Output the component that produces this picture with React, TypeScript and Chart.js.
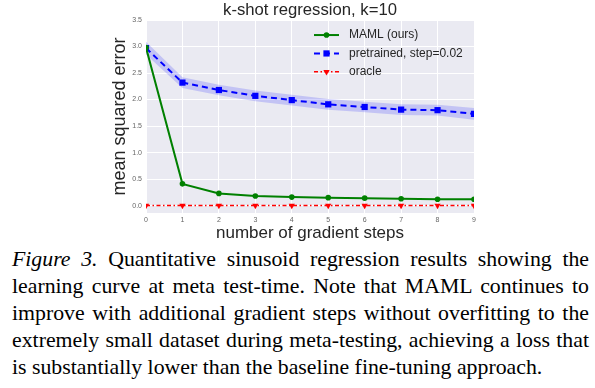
import React, { useEffect, useRef } from "react";
import { Chart, registerables } from "chart.js";

Chart.register(...registerables);

const SANS = '"Liberation Sans", Arial, sans-serif';
const SERIF = '"Liberation Serif", "Times New Roman", serif';

// ---- data ----
const steps = [0, 1, 2, 3, 4, 5, 6, 7, 8, 9];
const mamlValues = [2.98, 0.41, 0.23, 0.18, 0.16, 0.15, 0.14, 0.13, 0.12, 0.12];
const pretrainedValues = [2.97, 2.32, 2.18, 2.07, 1.99, 1.91, 1.86, 1.81, 1.8, 1.73];
const pretrainedUpper = [3.09, 2.42, 2.28, 2.17, 2.09, 2.01, 1.96, 1.91, 1.9, 1.84];
const pretrainedLower = [2.85, 2.22, 2.08, 1.97, 1.89, 1.81, 1.76, 1.71, 1.7, 1.62];
const oracleValues = [0, 0, 0, 0, 0, 0, 0, 0, 0, 0];
const yTickValues = [0, 0.5, 1, 1.5, 2, 2.5, 3, 3.5];
const xTickValues = steps;

const seriesLabels = ["MAML (ours)", "pretrained, step=0.02", "oracle"];
const chartTitle = "k-shot regression, k=10";
const xTitle = "number of gradient steps";
const yTitle = "mean squared error";
const captionLabel = "Figure 3.";
const captionLines = [
  "Quantitative sinusoid regression results showing the",
  "learning curve at meta test-time.  Note that MAML continues to",
  "improve with additional gradient steps without overfitting to the",
  "extremely small dataset during meta-testing, achieving a loss that",
  "is substantially lower than the baseline fine-tuning approach.",
];

const toPoints = (vals: number[]) => steps.map((s, i) => ({ x: s, y: vals[i] }));

const bgPlugin = {
  id: "plotBackground",
  beforeDraw(chart: any) {
    const { ctx, chartArea } = chart;
    ctx.save();
    ctx.fillStyle = "#EAEAF2";
    ctx.fillRect(chartArea.left, chartArea.top, chartArea.right - chartArea.left, chartArea.bottom - chartArea.top);
    ctx.restore();
  },
};

function drawMarker(ctx: CanvasRenderingContext2D, style: string, x: number, y: number, r: number, rotDeg: number, color: string) {
  ctx.save();
  ctx.fillStyle = color;
  ctx.setLineDash([]);
  ctx.beginPath();
  if (style === "circle") {
    ctx.arc(x, y, r, 0, Math.PI * 2);
  } else if (style === "rect") {
    const s = r / Math.SQRT2;
    ctx.rect(x - s, y - s, 2 * s, 2 * s);
  } else if (style === "triangle") {
    let rad = (rotDeg * Math.PI) / 180;
    ctx.moveTo(x + Math.sin(rad) * r, y - Math.cos(rad) * r);
    rad += (2 * Math.PI) / 3;
    ctx.lineTo(x + Math.sin(rad) * r, y - Math.cos(rad) * r);
    rad += (2 * Math.PI) / 3;
    ctx.lineTo(x + Math.sin(rad) * r, y - Math.cos(rad) * r);
    ctx.closePath();
  }
  ctx.fill();
  ctx.restore();
}

const legendPlugin = {
  id: "insideLegend",
  afterDraw(chart: any) {
    const { ctx, chartArea } = chart;
    const items = chart.data.datasets.filter((d: any) => d.inLegend);
    const lineStart = chartArea.left + 168;
    const lineEnd = chartArea.left + 193;
    const textX = chartArea.left + 203;
    items.forEach((d: any, i: number) => {
      const y = chartArea.top + 15 + i * 18.4;
      ctx.save();
      ctx.strokeStyle = d.borderColor;
      ctx.lineWidth = d.borderWidth;
      ctx.setLineDash(d.borderDash || []);
      ctx.beginPath();
      ctx.moveTo(lineStart, y);
      ctx.lineTo(lineEnd, y);
      ctx.stroke();
      ctx.restore();
      drawMarker(ctx, d.pointStyle, (lineStart + lineEnd) / 2, y, d.pointRadius, d.pointRotation || 0, d.pointBackgroundColor);
      ctx.save();
      ctx.fillStyle = "#262626";
      ctx.font = `12px ${SANS}`;
      ctx.textBaseline = "middle";
      ctx.textAlign = "left";
      ctx.fillText(d.label, textX, y);
      ctx.restore();
    });
  },
};

export default function App() {
  const canvasRef = useRef<HTMLCanvasElement | null>(null);

  useEffect(() => {
    if (!canvasRef.current) return;
    const chart = new Chart(canvasRef.current, {
      type: "line",
      data: {
        datasets: [
          {
            label: seriesLabels[0],
            inLegend: true,
            data: toPoints(mamlValues),
            borderColor: "#008000",
            backgroundColor: "#008000",
            pointBackgroundColor: "#008000",
            borderWidth: 2,
            pointStyle: "circle",
            pointRadius: 2.8,
            pointBorderWidth: 0,
            tension: 0,
            fill: false,
            order: 2,
          },
          {
            label: seriesLabels[1],
            inLegend: true,
            data: toPoints(pretrainedValues),
            borderColor: "#0000FF",
            backgroundColor: "#0000FF",
            pointBackgroundColor: "#0000FF",
            borderWidth: 2,
            borderDash: [6, 4],
            pointStyle: "rect",
            pointRadius: 4.4,
            pointBorderWidth: 0,
            tension: 0,
            fill: false,
            order: 3,
          },
          {
            label: seriesLabels[2],
            inLegend: true,
            data: toPoints(oracleValues),
            borderColor: "#FF0000",
            backgroundColor: "#FF0000",
            pointBackgroundColor: "#FF0000",
            borderWidth: 1.5,
            borderDash: [4, 2.5, 1.5, 2.5],
            pointStyle: "triangle",
            pointRotation: 180,
            pointRadius: 3.6,
            pointBorderWidth: 0,
            tension: 0,
            fill: false,
            order: 1,
          },
          {
            label: "",
            data: toPoints(pretrainedUpper),
            borderWidth: 0,
            borderColor: "rgba(0,0,0,0)",
            pointRadius: 0,
            backgroundColor: "rgba(40,40,255,0.2)",
            fill: "+1",
            tension: 0,
            order: 5,
          },
          {
            label: "",
            data: toPoints(pretrainedLower),
            borderWidth: 0,
            borderColor: "rgba(0,0,0,0)",
            pointRadius: 0,
            fill: false,
            tension: 0,
            order: 5,
          },
        ] as any,
      },
      options: {
        responsive: false,
        animation: false,
        devicePixelRatio: 1,
        layout: { padding: { left: 100, right: 121, top: 0, bottom: 0 } },
        plugins: {
          legend: { display: false },
          tooltip: { enabled: false },
          title: {
            display: true,
            text: chartTitle,
            fullSize: false,
            color: "#262626",
            font: { family: SANS, size: 16.7, weight: "normal" },
            padding: { top: 0, bottom: 0 },
          },
        },
        scales: {
          x: {
            type: "linear",
            min: 0,
            max: 9,
            afterBuildTicks: (s: any) => {
              s.ticks = xTickValues.map((v) => ({ value: v }));
            },
            afterFit: (s: any) => {
              s.height = 33;
            },
            grid: { color: "#FFFFFF", lineWidth: 1, drawTicks: false },
            border: { display: false },
            ticks: {
              color: "#666666",
              font: { family: SANS, size: 7 },
              padding: 3,
              maxRotation: 0,
              autoSkip: false,
              callback: (v: any) => String(v),
            },
            title: {
              display: true,
              text: xTitle,
              color: "#262626",
              font: { family: SANS, size: 17 },
              padding: { top: 0, bottom: 2 },
            },
          },
          y: {
            type: "linear",
            min: -0.14,
            max: 3.5,
            afterBuildTicks: (s: any) => {
              s.ticks = yTickValues.map((v) => ({ value: v }));
            },
            afterFit: (s: any) => {
              s.width = 46;
            },
            grid: { color: "#FFFFFF", lineWidth: 1, drawTicks: false },
            border: { display: false },
            ticks: {
              color: "#666666",
              font: { family: SANS, size: 7 },
              padding: 4,
              autoSkip: false,
              callback: (v: any) => Number(v).toFixed(1),
            },
            title: {
              display: true,
              text: yTitle,
              color: "#262626",
              font: { family: SANS, size: 18 },
              padding: { top: 9, bottom: 0 },
            },
          },
        },
      } as any,
      plugins: [bgPlugin, legendPlugin],
    });
    return () => chart.destroy();
  }, []);

  return (
    <div style={{ position: "absolute", left: 0, top: 0, width: 595, background: "#fff" }}>
      <canvas ref={canvasRef} width={595} height={246} style={{ display: "block" }} />
      <div
        style={{
          marginLeft: 12,
          width: 577,
          fontFamily: SERIF,
          fontSize: 21.8,
          lineHeight: "27px",
          color: "#000",
        }}
      >
        {captionLines.map((line, i) => (
          <div
            key={i}
            style={{
              textAlign: i < captionLines.length - 1 ? "justify" : "left",
              textAlignLast: i < captionLines.length - 1 ? "justify" : "left",
              whiteSpace: "nowrap",
            } as any}
          >
            {i === 0 ? (
              <>
                <i>{captionLabel}</i> {line}
              </>
            ) : (
              line
            )}
          </div>
        ))}
      </div>
    </div>
  );
}
